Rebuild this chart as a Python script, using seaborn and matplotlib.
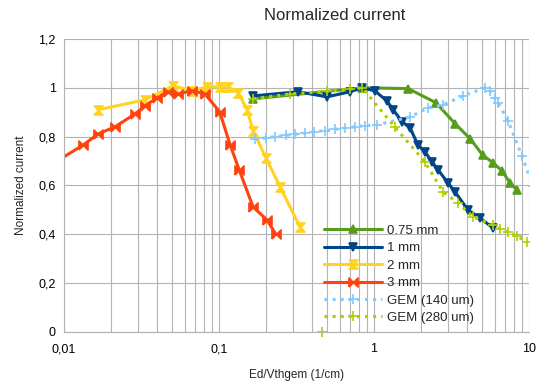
import numpy as np
import pandas as pd
import matplotlib
matplotlib.use("Agg")
import matplotlib.pyplot as plt
import seaborn as sns
from matplotlib.ticker import FixedLocator, FuncFormatter, NullFormatter, LogLocator

sns.set_style("whitegrid")
plt.rcParams['font.family'] = ['Liberation Sans', 'DejaVu Sans']

# data
x_075 = [0.166, 0.837, 1.66, 2.51, 3.35, 4.18, 5.02, 5.86, 6.70, 7.53, 8.37]
y_075 = [0.955, 1.0, 0.997, 0.939, 0.852, 0.791, 0.725, 0.693, 0.660, 0.611, 0.582]

x_1 = [0.166, 0.324, 0.498, 0.70, 0.837, 1.01, 1.21, 1.33, 1.52, 1.71, 1.92, 2.13,
       2.37, 2.59, 3.0, 3.33, 4.04, 4.83, 5.86]
y_1 = [0.967, 0.984, 0.963, 0.984, 1.0, 0.988, 0.947, 0.91, 0.861, 0.836, 0.766, 0.738,
       0.697, 0.664, 0.611, 0.574, 0.5, 0.467, 0.426]

x_2 = [0.0166, 0.0333, 0.0505, 0.067, 0.0838, 0.101, 0.114, 0.133, 0.152, 0.166,
       0.201, 0.248, 0.333]
y_2 = [0.91, 0.951, 1.008, 0.988, 1.004, 1.004, 1.004, 0.98, 0.91, 0.824,
       0.713, 0.594, 0.43]

x_3 = [0.0085, 0.0133, 0.0166, 0.0213, 0.0287, 0.0333, 0.0398, 0.0469, 0.0544, 0.067,
       0.0812, 0.101, 0.118, 0.135, 0.166, 0.204, 0.233]
y_3 = [0.69, 0.766, 0.811, 0.84, 0.893, 0.926, 0.959, 0.984, 0.975, 0.988,
       0.975, 0.902, 0.766, 0.664, 0.512, 0.459, 0.40]

x_gem140 = [0.17, 0.2, 0.23, 0.27, 0.31, 0.36, 0.41, 0.48, 0.56, 0.65, 0.75, 0.87,
            1.04, 1.71, 2.23, 2.79, 3.75, 5.2, 5.6, 6.0, 6.3, 7.33, 9.0, 10.6]
y_gem140 = [0.791, 0.795, 0.80, 0.805, 0.81, 0.815, 0.82, 0.825, 0.83, 0.835, 0.84, 0.845,
            0.848, 0.881, 0.918, 0.93, 0.967, 1.0, 0.988, 0.959, 0.939, 0.865, 0.721, 0.598]

x_gem280 = [0.166, 0.287, 0.50, 0.70, 0.84, 1.36, 2.13, 2.79, 3.48, 4.36, 5.86,
            6.5, 7.3, 8.37, 9.7]
y_gem280 = [0.955, 0.975, 0.985, 0.995, 1.0, 0.84, 0.697, 0.574, 0.529, 0.471, 0.439,
            0.422, 0.41, 0.393, 0.369]
x_gem280_lone = [0.462]
y_gem280_lone = [0.0]

labels = ["0.75 mm", "1 mm", "2 mm", "3 mm", "GEM (140 um)", "GEM (280 um)"]
colors = ["#579d1c", "#004586", "#ffd320", "#ff420e", "#83caff", "#aecf00"]

# hourglass / bowtie marker shapes
hourglass = [(-1, 1), (1, 1), (-1, -1), (1, -1), (-1, 1)]
bowtie = [(-1, -1), (-1, 1), (1, -1), (1, 1), (-1, -1)]
markers = ["^", "v", hourglass, bowtie, "+", "+"]
styles = ["-", "-", "-", "-", ":", ":"]
sizes = [6, 6, 6.5, 6.5, 7, 7]

series = [(x_075, y_075), (x_1, y_1), (x_2, y_2), (x_3, y_3),
          (x_gem140, y_gem140), (x_gem280, y_gem280)]

fig = plt.figure(figsize=(5.36, 3.82), dpi=100)
ax = fig.add_axes([64 / 536, 50 / 382, 465 / 536, 293 / 382])

for (xs, ys), lab, col, mk, ls, ms in zip(series, labels, colors, markers, styles, sizes):
    df = pd.DataFrame({"x": xs, "y": ys})
    sns.lineplot(data=df, x="x", y="y", ax=ax, sort=False, estimator=None,
                 color=col, linestyle=ls, linewidth=2.2, marker=mk, markersize=ms,
                 markeredgecolor=col, markerfacecolor=col, markeredgewidth=1.2,
                 label=lab, clip_on=True)

ax.plot(x_gem280_lone, y_gem280_lone, linestyle="none", marker="+", markersize=7,
        color=colors[5], markeredgewidth=1.2, clip_on=False)

ax.set_xscale("log")
ax.set_xlim(0.01, 10)
ax.set_ylim(0, 1.2)

ax.xaxis.set_major_locator(FixedLocator([0.01, 0.1, 1, 10]))
ax.xaxis.set_minor_locator(LogLocator(base=10, subs=np.arange(2, 10)))
ax.xaxis.set_minor_formatter(NullFormatter())
ax.xaxis.set_major_formatter(FuncFormatter(lambda v, p: ("%g" % v).replace(".", ",")))
ax.yaxis.set_major_locator(FixedLocator(np.arange(0, 1.21, 0.2)))
ax.yaxis.set_major_formatter(FuncFormatter(lambda v, p: ("%g" % round(v, 1)).replace(".", ",")))

ax.grid(True, which="major", color="#b3b3b3", linewidth=0.8)
ax.grid(True, which="minor", axis="x", color="#b3b3b3", linewidth=0.8)
for side in ["top", "right"]:
    ax.spines[side].set_visible(False)
for side in ["left", "bottom"]:
    ax.spines[side].set_color("#b3b3b3")
    ax.spines[side].set_linewidth(0.8)
ax.tick_params(axis="both", which="major", direction="out", length=4, width=0.8,
               color="#b3b3b3", labelsize=9, labelcolor="black", pad=2)
ax.tick_params(axis="x", which="minor", length=0)
ax.tick_params(axis="x", which="major", pad=4)

ax.set_xlabel("Ed/Vthgem (1/cm)", fontsize=8.5, labelpad=10)
ax.set_ylabel("Normalized current", fontsize=8.5, labelpad=8)
fig.text(335 / 536, 1 - 15 / 382, "Normalized current", fontsize=12,
         ha="center", va="center")

ax.legend(loc="upper left", bbox_to_anchor=(0.56, 0.366), frameon=False,
          fontsize=9.5, handlelength=4.4, handletextpad=0.35, labelspacing=0.39,
          borderpad=0, borderaxespad=0)

fig.savefig("out.png", dpi=100)
